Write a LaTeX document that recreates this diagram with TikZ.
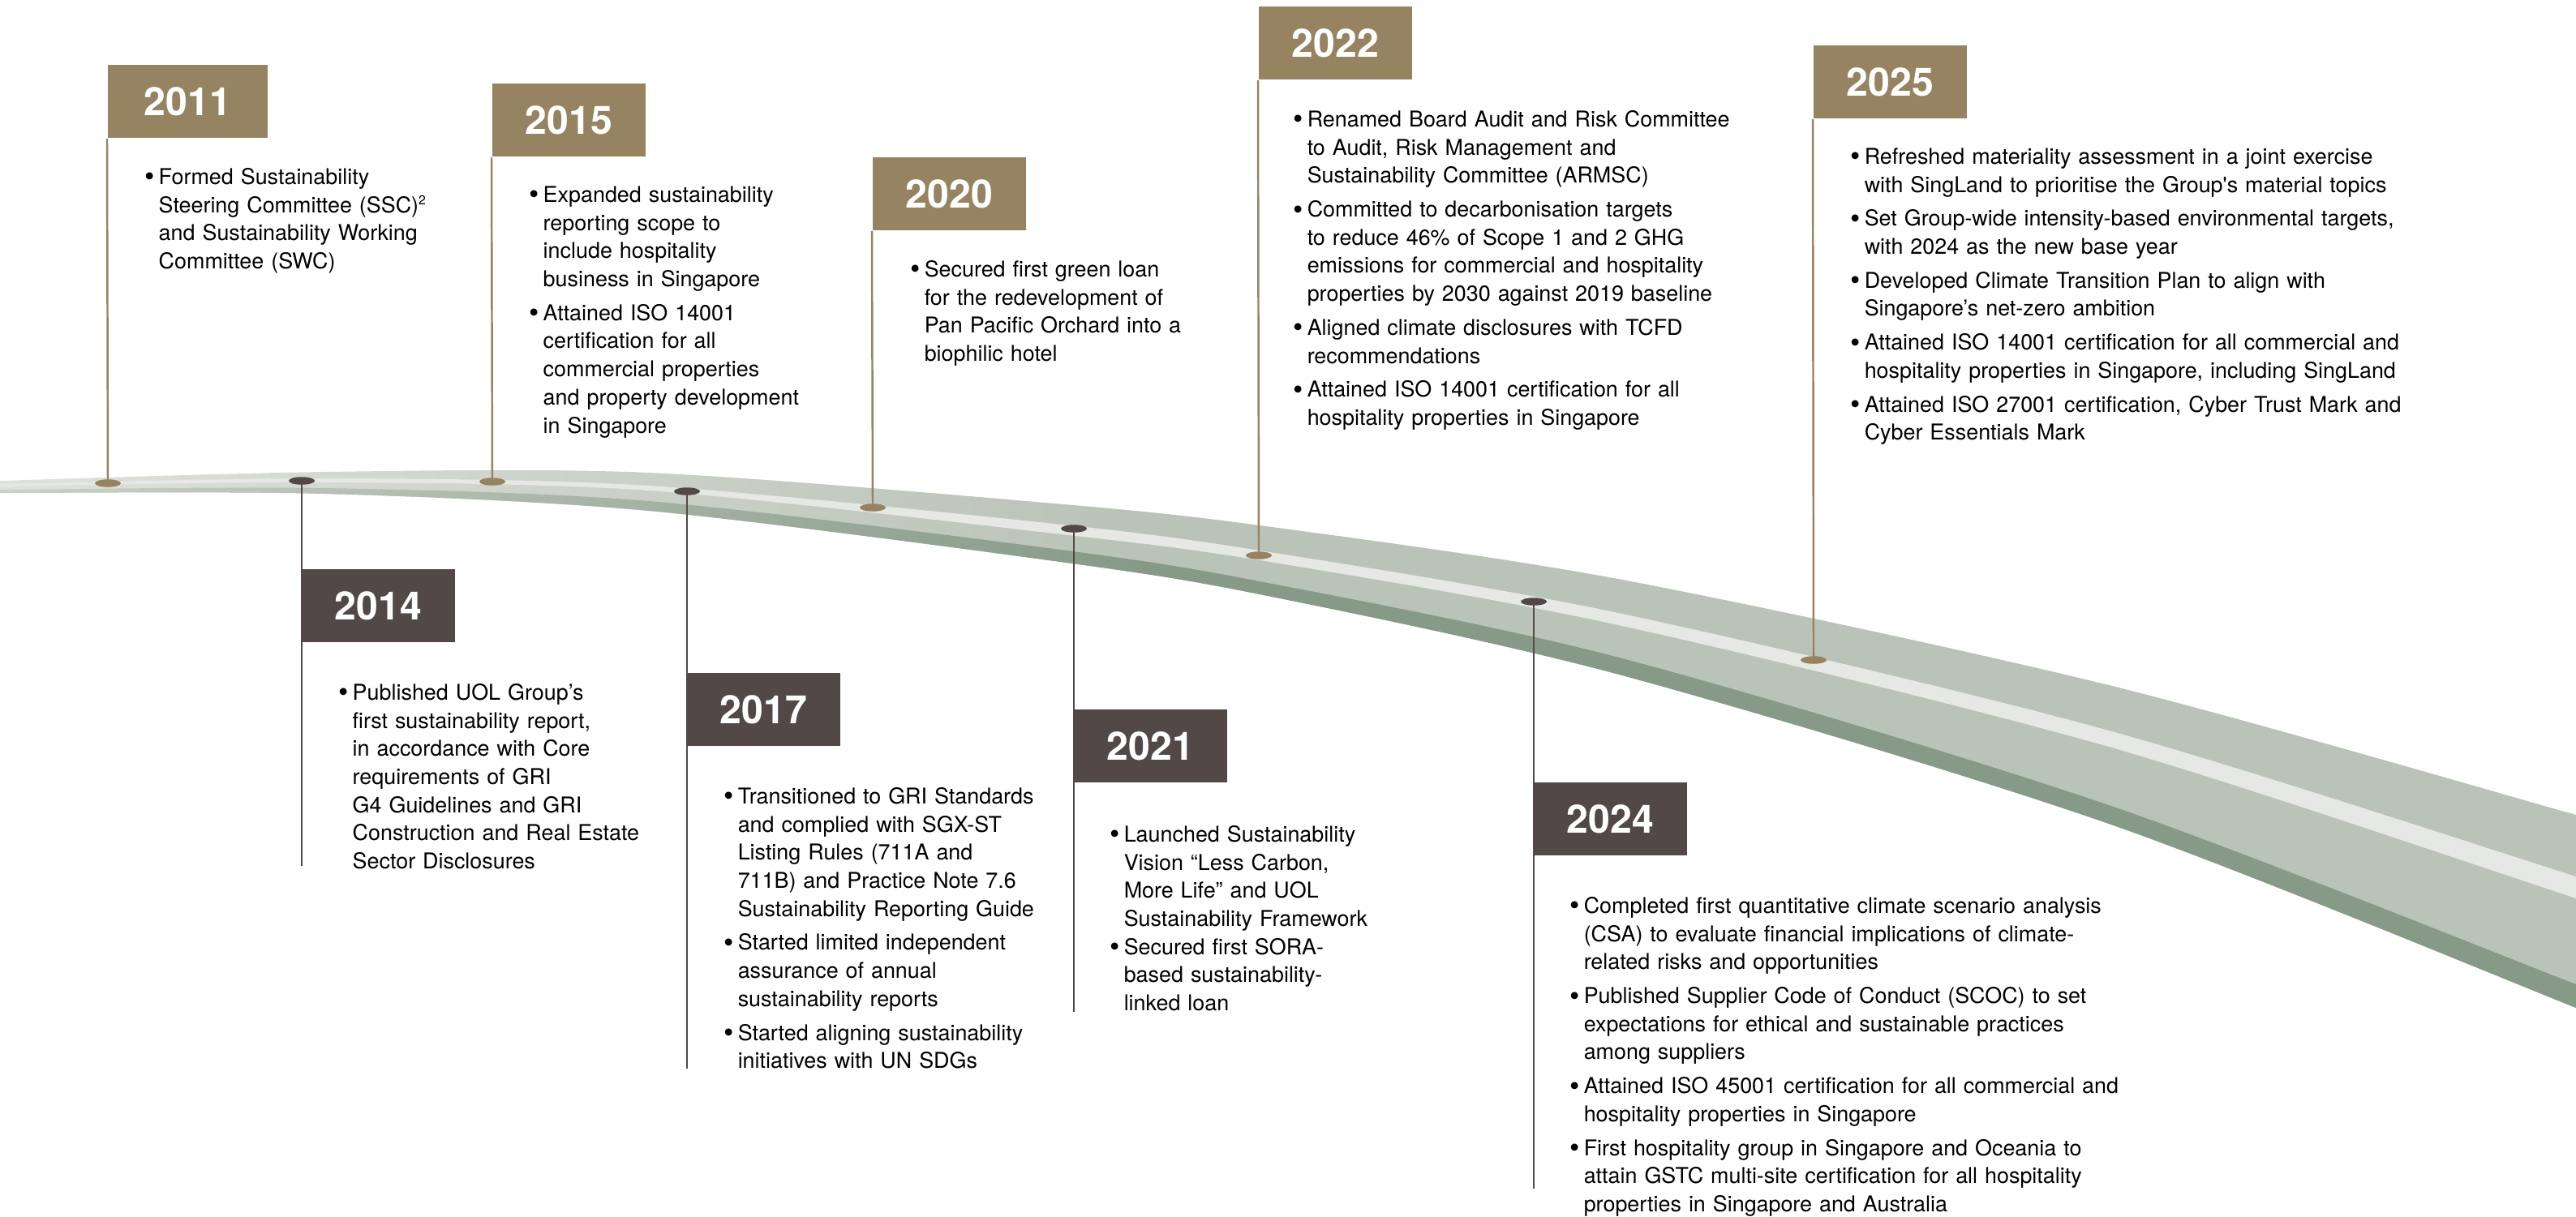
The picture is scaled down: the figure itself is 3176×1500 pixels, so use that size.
\documentclass[tikz,border=0pt]{standalone}
\usepackage{fontspec}
\setmainfont{TeX Gyre Heros}
\usetikzlibrary{positioning}

\definecolor{gold}{HTML}{968362}
\definecolor{umber}{HTML}{524946}
\definecolor{roadlight}{HTML}{BAC3B7}
\definecolor{roadpale}{HTML}{E0E3DD}
\definecolor{roadline}{HTML}{E5E8E3}
\definecolor{roaddark}{HTML}{879A88}
\definecolor{roaddarkpale}{HTML}{CDD3CA}

% road colours fade out towards the left end
\pgfdeclarehorizontalshading{roadfade}{100bp}{color(0bp)=(roadpale); color(25bp)=(roadpale); color(47bp)=(roadlight); color(100bp)=(roadlight)}
\pgfdeclarehorizontalshading{edgefade}{100bp}{color(0bp)=(roaddarkpale); color(25bp)=(roaddarkpale); color(47bp)=(roaddark); color(100bp)=(roaddark)}

\newcommand{\yearfont}{\fontsize{13.7pt}{16pt}\selectfont\bfseries}
\newcommand{\notefont}{\fontsize{7.65pt}{9.87pt}\selectfont}
% one bullet point, later lines hang under the text
\newcommand{\bul}{\makebox[0.17cm][l]{\raisebox{-0.7pt}{\fontsize{10pt}{0pt}\selectfont\textbullet}}}
\newcommand{\itm}[1]{\par\hangindent=0.17cm\hangafter=1\noindent\bul\strut#1\par}
\newcommand{\itemgap}{\vspace{2pt}}
\newcommand{\fnmark}[1]{\raisebox{2.7pt}{\fontsize{4.5pt}{0pt}\selectfont#1}}

\begin{document}
\begin{tikzpicture}[x=0.01cm, y=-0.01cm]
\tikzstyle{yearbox}=[rectangle, anchor=north west, minimum width=1.89cm, minimum height=0.905cm, inner sep=0pt, text=white, font=\yearfont]
\tikzstyle{goldyear}=[yearbox, fill=gold]
\tikzstyle{darkyear}=[yearbox, fill=umber]
\tikzstyle{notes}=[inner sep=0pt, text width=7cm, font=\notefont]
\tikzstyle{goldpole}=[draw=gold, line width=0.7pt]
\tikzstyle{darkpole}=[draw=umber, line width=0.7pt]

\useasboundingbox (0,0) rectangle (3176,1500);

%road
\shade[shading=roadfade] plot[smooth] coordinates {(-20,594) (0,593) (400,582) (800,583) (1300,621) (1553,648) (2000,715) (2600,845) (3176,1005) (3200,1012)}
  -- plot[smooth] coordinates {(3200,1254) (3176,1243) (2600,1016) (2000,833) (1553,733) (1300,692) (800,630) (400,609) (0,608) (-20,608)} -- cycle;
\shade[shading=edgefade] plot[smooth] coordinates {(-20,604) (0,604) (400,602) (800,618) (1300,677) (1553,717) (2000,812) (2600,993) (3176,1214) (3200,1224)}
  -- plot[smooth] coordinates {(3200,1254) (3176,1243) (2600,1016) (2000,833) (1553,733) (1300,692) (800,630) (400,609) (0,608) (-20,608)} -- cycle;
\fill[roadline] plot[smooth] coordinates {(-20,597) (0,597) (400,590) (800,599) (1300,646) (1553,679) (2000,757) (2600,901) (3176,1081) (3200,1089)}
  -- plot[smooth] coordinates {(3200,1117) (3176,1108) (2600,921) (2000,772) (1553,691) (1300,658) (800,605) (400,595) (0,600) (-20,600)} -- cycle;

%dots on the road and pole ends
\coordinate (d2011) at (133,596);
\coordinate (d2014) at (372,593);
\coordinate (d2015) at (607,594);
\coordinate (d2017) at (847,606);
\coordinate (d2020) at (1076,626);
\coordinate (d2021) at (1324,652);
\coordinate (d2022) at (1552,685);
\coordinate (d2024) at (1891,742);
\coordinate (d2025) at (2236,814);

\coordinate (e2014) at (372,1068);
\coordinate (e2017) at (847,1318);
\coordinate (e2021) at (1324,1248);
\coordinate (e2024) at (1891,1466);

%years above the road
\node (y2011) [goldyear, minimum width=1.97cm] at (132,79) {2011};
\node (y2015) [goldyear] at (606,102) {2015};
\node (y2020) [goldyear] at (1075,193) {2020};
\node (y2022) [goldyear] at (1551,7) {2022};
\node (y2025) [goldyear] at (2235,55) {2025};

%lines
\foreach \yr in {2011,2015,2020,2022,2025}
  \draw[goldpole] (d\yr) -- (y\yr.south west);
\foreach \yr in {2014,2017,2021,2024}
  \draw[darkpole] (d\yr) -- (e\yr);

\foreach \yr in {2011,2015,2020,2022,2025}
  \fill[gold] (d\yr) ellipse [x radius=0.16cm, y radius=0.0475cm];
\foreach \yr in {2014,2017,2021,2024}
  \fill[umber] (d\yr) ellipse [x radius=0.16cm, y radius=0.0475cm];

%years below the road
\node (y2014) [darkyear] at (371,701) {2014};
\node (y2017) [darkyear] at (846,829) {2017};
\node (y2021) [darkyear] at (1323,874) {2021};
\node (y2024) [darkyear] at (1890,964) {2024};

%text
\node (t2011) [notes, below right=0.21cm and 0.46cm of y2011.south west] {%
\itm{Formed Sustainability\newline Steering Committee (SSC)\fnmark{2}\newline and Sustainability Working\newline Committee (SWC)}};
\node (t2015) [notes, below right=0.2cm and 0.46cm of y2015.south west] {%
\itm{Expanded sustainability\newline reporting scope to\newline include hospitality\newline business in Singapore}\itemgap
\itm{Attained ISO 14001\newline certification for all\newline commercial properties\newline and property development\newline in Singapore}};
\node (t2020) [notes, below right=0.21cm and 0.47cm of y2020.south west] {%
\itm{Secured first green loan\newline for the redevelopment of\newline Pan Pacific Orchard into a\newline biophilic hotel}};
\node (t2022) [notes, below right=0.22cm and 0.43cm of y2022.south west] {%
\itm{Renamed Board Audit and Risk Committee\newline to Audit, Risk Management and\newline Sustainability Committee (ARMSC)}\itemgap
\itm{Committed to decarbonisation targets\newline to reduce 46\% of Scope 1 and 2 GHG\newline emissions for commercial and hospitality\newline properties by 2030 against 2019 baseline}\itemgap
\itm{Aligned climate disclosures with TCFD\newline recommendations}\itemgap
\itm{Attained ISO 14001 certification for all\newline hospitality properties in Singapore}};
\node (t2025) [notes, below right=0.2cm and 0.46cm of y2025.south west] {%
\itm{Refreshed materiality assessment in a joint exercise\newline with SingLand to prioritise the Group\textquotesingle s material topics}\itemgap
\itm{Set Group-wide intensity-based environmental targets,\newline with 2024 as the new base year}\itemgap
\itm{Developed Climate Transition Plan to align with\newline Singapore’s net-zero ambition}\itemgap
\itm{Attained ISO 14001 certification for all commercial and\newline hospitality properties in Singapore, including SingLand}\itemgap
\itm{Attained ISO 27001 certification, Cyber Trust Mark and\newline Cyber Essentials Mark}};
\node (t2014) [notes, below right=0.35cm and 0.46cm of y2014.south west] {%
\itm{Published UOL Group’s\newline first sustainability report,\newline in accordance with Core\newline requirements of GRI\newline G4 Guidelines and GRI\newline Construction and Real Estate\newline Sector Disclosures}};
\node (t2017) [notes, below right=0.35cm and 0.46cm of y2017.south west] {%
\itm{Transitioned to GRI Standards\newline and complied with SGX-ST\newline Listing Rules (711A and\newline 711B) and Practice Note 7.6\newline Sustainability Reporting Guide}\itemgap
\itm{Started limited independent\newline assurance of annual\newline sustainability reports}\itemgap
\itm{Started aligning sustainability\newline initiatives with UN SDGs}};
\node (t2021) [notes, below right=0.37cm and 0.45cm of y2021.south west] {%
\itm{Launched Sustainability\newline Vision “Less Carbon,\newline More Life” and UOL\newline Sustainability Framework}
\itm{Secured first SORA-\newline based sustainability-\newline linked loan}};
\node (t2024) [notes, below right=0.35cm and 0.45cm of y2024.south west] {%
\itm{Completed first quantitative climate scenario analysis\newline (CSA) to evaluate financial implications of climate-\newline related risks and opportunities}\itemgap
\itm{Published Supplier Code of Conduct (SCOC) to set\newline expectations for ethical and sustainable practices\newline among suppliers}\itemgap
\itm{Attained ISO 45001 certification for all commercial and\newline hospitality properties in Singapore}\itemgap
\itm{First hospitality group in Singapore and Oceania to\newline attain GSTC multi-site certification for all hospitality\newline properties in Singapore and Australia}};

\end{tikzpicture}
\end{document}
